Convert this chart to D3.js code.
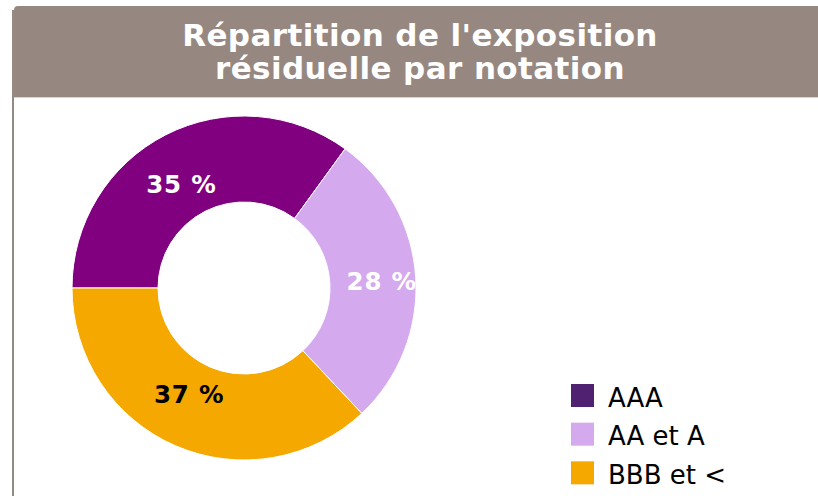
<!DOCTYPE html>
<html><head><meta charset="utf-8">
<script src="https://cdn.jsdelivr.net/npm/d3@7"></script>
<style>
html,body{margin:0;padding:0;background:#fff;}
svg{display:block;}
</style></head>
<body>
<script>
const titleLines = ["Répartition de l'exposition", "résiduelle par notation"];
const categories = ["AAA", "AA et A", "BBB et <"];
const values = [35, 28, 37];
const sliceColors = ["#800080", "#D4A9EE", "#F5A800"];
const legendColors = ["#4F2170", "#D4A9EE", "#F5A800"];
const labelColors = ["#FFFFFF", "#FFFFFF", "#000000"];

const W = 818, H = 496;
const svg = d3.select("body").append("svg").attr("width", W).attr("height", H);

// frame
svg.append("line").attr("x1", 13).attr("x2", 13).attr("y1", 10).attr("y2", H)
  .attr("stroke", "#978983").attr("stroke-width", 2);
svg.append("path")
  .attr("d", "M14,10 Q14,6 18,6 L818,6 L818,97 L14,97 Z")
  .attr("fill", "#968781");
svg.append("line").attr("x1", 14).attr("x2", 818).attr("y1", 97.5).attr("y2", 97.5)
  .attr("stroke", "#d9d3d0").attr("stroke-width", 1);

const title = svg.append("text")
  .attr("x", 420).attr("y", 46)
  .attr("text-anchor", "middle")
  .attr("font-family", "DejaVu Sans, Verdana, sans-serif")
  .attr("font-weight", "bold").attr("font-size", 31)
  .attr("letter-spacing", 0.4)
  .attr("fill", "#fff");
title.selectAll("tspan").data(titleLines).join("tspan")
  .attr("x", 420).attr("dy", (d, i) => i === 0 ? 0 : 33).text(d => d);

// donut
const cx = 244, cy = 288, R = 172, r = 86;
const pie = d3.pie().sort(null).startAngle(-Math.PI / 2).endAngle(1.5 * Math.PI)(values);
const arc = d3.arc().outerRadius(R).innerRadius(r);
const g = svg.append("g").attr("transform", `translate(${cx},${cy})`);
g.selectAll("path").data(pie).join("path")
  .attr("d", arc)
  .attr("fill", (d, i) => sliceColors[i])
  .attr("stroke", "#fff").attr("stroke-width", 1);

const lrx = 138, lry = 116;
g.selectAll("text.lbl").data(pie).join("text")
  .attr("class", "lbl")
  .attr("transform", d => {
    const a = (d.startAngle + d.endAngle) / 2;
    return `translate(${lrx * Math.sin(a)},${-lry * Math.cos(a)})`;
  })
  .attr("text-anchor", "middle").attr("dy", "0.36em")
  .attr("font-family", "DejaVu Sans, Verdana, sans-serif")
  .attr("font-weight", "bold").attr("font-size", 24.5)
  .attr("letter-spacing", 0.8)
  .attr("fill", (d, i) => labelColors[i])
  .text(d => d3.format(".0f")(d.data) + " %");

// legend
const ly = d3.scaleBand().domain(categories).range([384, 500]).paddingInner(0);
const lg = svg.append("g");
const items = lg.selectAll("g").data(categories).join("g")
  .attr("transform", d => `translate(571,${ly(d)})`);
items.append("rect").attr("width", 23).attr("height", 23)
  .attr("fill", (d, i) => legendColors[i]);
items.append("text").attr("x", 37).attr("y", 22.5)
  .attr("font-family", "DejaVu Sans, Verdana, sans-serif")
  .attr("font-size", 26).attr("fill", "#000")
  .text(d => d);
</script>
</body></html>
